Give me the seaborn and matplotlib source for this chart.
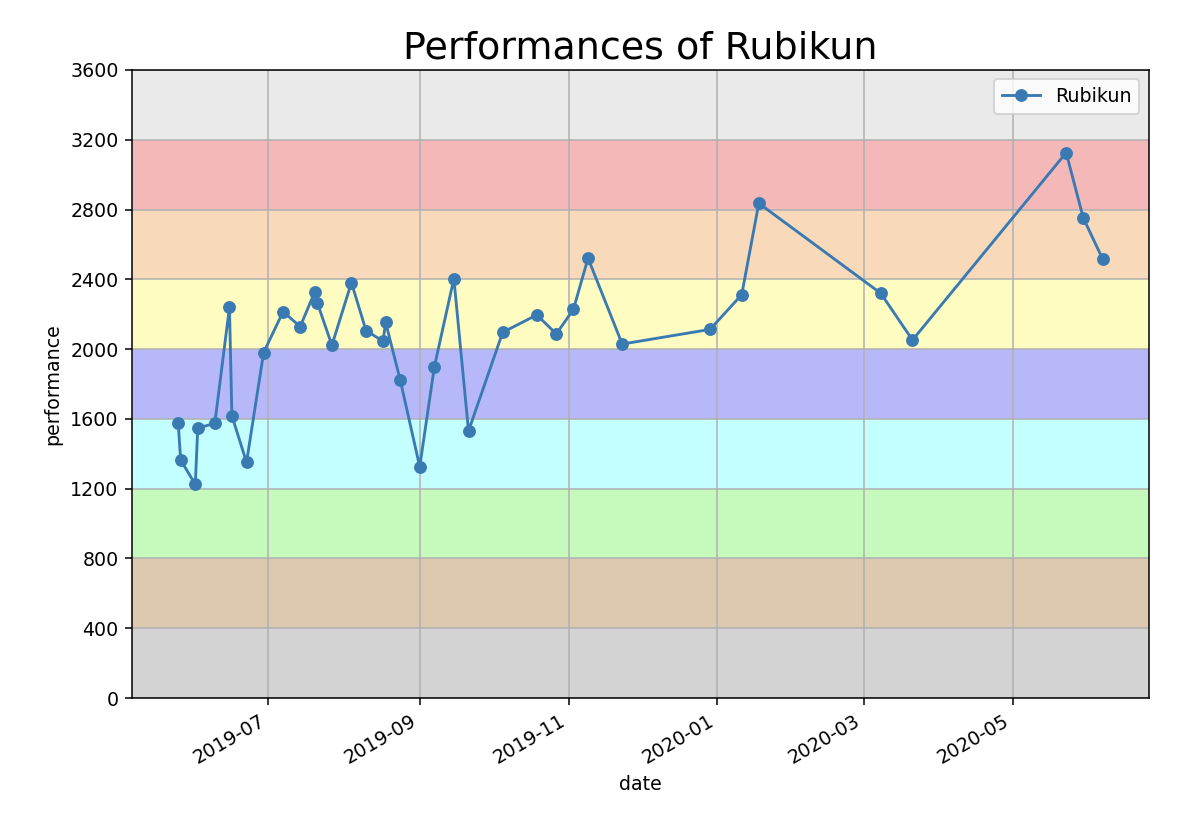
import pandas as pd
import numpy as np
import seaborn as sns
import matplotlib.pyplot as plt
import matplotlib.dates as mdates

# contest dates and performances
dates = ['2019-05-25', '2019-05-26', '2019-06-01', '2019-06-02', '2019-06-09',
         '2019-06-15', '2019-06-16', '2019-06-22', '2019-06-29', '2019-07-07',
         '2019-07-14', '2019-07-20', '2019-07-21', '2019-07-27', '2019-08-04',
         '2019-08-10', '2019-08-17', '2019-08-18', '2019-08-24', '2019-09-01',
         '2019-09-07', '2019-09-15', '2019-09-21', '2019-10-05', '2019-10-19',
         '2019-10-27', '2019-11-03', '2019-11-09', '2019-11-23', '2019-12-29',
         '2020-01-11', '2020-01-18', '2020-03-08', '2020-03-21', '2020-05-23',
         '2020-05-30', '2020-06-07']
perf = [1575, 1364, 1225, 1547, 1575,
        2240, 1618, 1351, 1980, 2215,
        2129, 2329, 2266, 2022, 2381,
        2106, 2045, 2155, 1823, 1326,
        1899, 2404, 1531, 2096, 2196,
        2087, 2228, 2521, 2029, 2113,
        2312, 2836, 2320, 2052, 3126,
        2752, 2515]

band_edges = [0, 400, 800, 1200, 1600, 2000, 2400, 2800, 3200, 3600]
band_colors = ['#d3d3d3', '#dcc9af', '#c6fabc', '#c4ffff', '#b6b8fa',
               '#fffcc2', '#f8d9ba', '#f4b8b8', '#eaeaea']

df = pd.DataFrame({'date': pd.to_datetime(dates), 'performance': perf})

fig, ax = plt.subplots(figsize=(1200/137, 833/137), dpi=137)
fig.subplots_adjust(left=0.11, right=0.9575, top=0.916, bottom=0.162)

for i in range(len(band_colors)):
    ax.axhspan(band_edges[i], band_edges[i+1], color=band_colors[i], lw=0, zorder=0.8)

sns.lineplot(data=df, x='date', y='performance', marker='o', color='#3a7ab3',
             markeredgecolor='#3a7ab3', label='Rubikun', ax=ax, zorder=3)

ax.set_ylim(0, 3600)
ax.set_yticks(range(0, 3601, 400))
ax.xaxis.set_major_locator(mdates.MonthLocator(bymonth=[1, 3, 5, 7, 9, 11]))
ax.xaxis.set_major_formatter(mdates.DateFormatter('%Y-%m'))
ax.grid(True)
for lbl in ax.get_xticklabels():
    lbl.set_rotation(30)
    lbl.set_ha('right')
ax.set_title('Performances of Rubikun', fontsize=20)
ax.legend(loc='upper right')

plt.savefig('out.png')
